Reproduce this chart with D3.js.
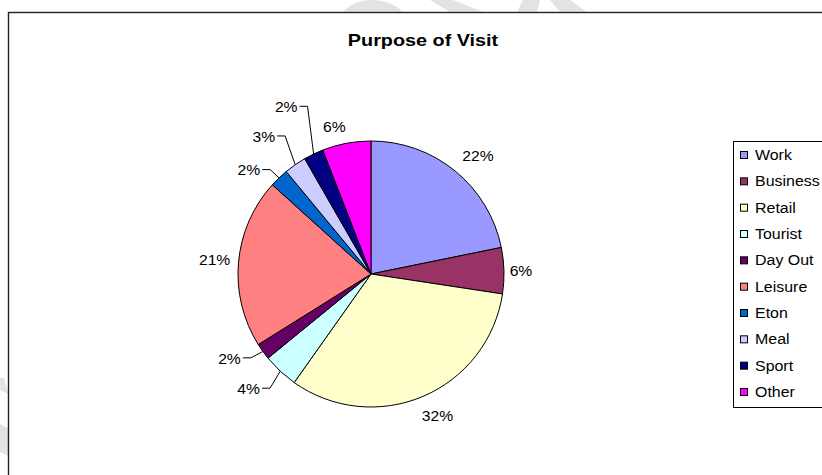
<!DOCTYPE html>
<html>
<head>
<meta charset="utf-8">
<script src="https://cdn.jsdelivr.net/npm/d3@7"></script>
<style>
  body { margin: 0; background: #fff; }
  svg { display: block; font-family: "Liberation Sans", Arial, sans-serif; }
</style>
</head>
<body>
<svg id="chart" width="822" height="475"></svg>
<script>
// ---- data ----
const categories = ["Work", "Business", "Retail", "Tourist", "Day Out", "Leisure", "Eton", "Meal", "Sport", "Other"];
const shares = [21.8, 5.6, 32.4, 4.3, 2.0, 20.6, 2.3, 2.7, 2.4, 5.9];
const colours = ["#9999FF", "#993366", "#FFFFCC", "#CCFFFF", "#660066", "#FF8080", "#0066CC", "#CCCCFF", "#000080", "#FF00FF"];
const titleText = "Purpose of Visit";

// ---- label placement (angle shift from slice middle in degrees, distance from centre, leader line) ----
const labelAngleShift = [3, 0.3, -2, 3.7, 4.7, 0, -6, -3.3, -1.4, -3.4];
const labelDistance = [159, 150, 157, 168, 165, 157, 160, 174, 187, 151];
const hasLeader = [false, false, false, true, true, false, true, true, true, false];

// the chart's text is set slightly wide
const titleStretch = 1.2, labelStretch = 1.12, legendStretch = 1.1;

const svg = d3.select("#chart");

// draws a horizontally stretched piece of text anchored at (x, y)
function wideText(parent, x, y, sx, txt) {
  return parent.append("g")
    .attr("transform", `translate(${x},${y}) scale(${sx},1)`)
    .append("text")
    .attr("x", 0).attr("y", 0)
    .text(txt);
}

// faint page artwork behind the chart frame
const page = svg.append("g").attr("fill", "#e3e3e3");
[
  "M343,12 C350,4 360,0 372,0 C385,0 396,5 403,12 Z",
  "M430,0 L453,0 L483,12 L450,12 Z",
  "M523,0 L540,0 L537,12 L517,12 Z",
  "M550,0 L570,0 L587,12 L560,12 Z",
  "M0,378 L4,378 L8,392 L8,394 L0,390 Z",
  "M0,424 L8,428 L8,456 L0,452 Z"
].forEach(d => page.append("path").attr("d", d));

// chart frame
svg.append("rect")
  .attr("x", 8.5).attr("y", 12.5)
  .attr("width", 840).attr("height", 480)
  .attr("fill", "#fff")
  .attr("stroke", "#222").attr("stroke-width", 1.4);

// title
wideText(svg, 423, 46, titleStretch, titleText)
  .attr("text-anchor", "middle")
  .attr("font-size", 16.5).attr("font-weight", "bold")
  .attr("fill", "#000");

// ---- pie ----
const cx = 371, cy = 274, radius = 133;
const total = d3.sum(shares);
const pie = d3.pie().sort(null).value(d => d);
const arcs = pie(shares);
const arc = d3.arc().innerRadius(0).outerRadius(radius);
const colour = d3.scaleOrdinal().domain(categories).range(colours);

const g = svg.append("g").attr("transform", `translate(${cx},${cy})`);

g.selectAll("path.slice")
  .data(arcs)
  .join("path")
  .attr("class", "slice")
  .attr("d", arc)
  .attr("fill", (d, i) => colour(categories[i]))
  .attr("stroke", "#000")
  .attr("stroke-width", 1)
  .attr("stroke-linejoin", "round");

const polar = (a, dist) => [dist * Math.sin(a), -dist * Math.cos(a)];
const deg = Math.PI / 180;

arcs.forEach((d, i) => {
  const mid = (d.startAngle + d.endAngle) / 2;
  const [lx, ly] = polar(mid + labelAngleShift[i] * deg, labelDistance[i]);
  const label = wideText(g, lx, ly, labelStretch, Math.round(d.value / total * 100) + "%")
    .attr("dy", "0.35em")
    .attr("text-anchor", "middle")
    .attr("font-size", 14)
    .attr("fill", "#000");

  if (hasLeader[i]) {
    const w = label.node().getComputedTextLength() * labelStretch;
    const right = lx + w / 2;
    const [ax, ay] = polar(mid, radius);
    g.append("polyline")
      .attr("points", [[right + 2, ly - 1], [right + 10, ly - 1], [ax, ay]].map(p => p.join(",")).join(" "))
      .attr("fill", "none")
      .attr("stroke", "#000")
      .attr("stroke-width", 1);
  }
});

// ---- legend ----
const legend = svg.append("g");
legend.append("rect")
  .attr("x", 733.5).attr("y", 141.5)
  .attr("width", 120).attr("height", 266)
  .attr("fill", "#fff")
  .attr("stroke", "#000").attr("stroke-width", 1);

const legendY = d3.scalePoint().domain(categories).range([155, 392]);

const item = legend.selectAll("g.item")
  .data(categories)
  .join("g")
  .attr("class", "item")
  .attr("transform", d => `translate(0,${legendY(d)})`);

item.append("rect")
  .attr("x", 740.5).attr("y", -3.5)
  .attr("width", 7).attr("height", 7)
  .attr("fill", d => colour(d))
  .attr("stroke", "#000").attr("stroke-width", 1);

item.each(function (d) {
  wideText(d3.select(this), 755, 0, legendStretch, d)
    .attr("dy", "0.35em")
    .attr("font-size", 14.5)
    .attr("fill", "#000");
});
</script>
</body>
</html>
